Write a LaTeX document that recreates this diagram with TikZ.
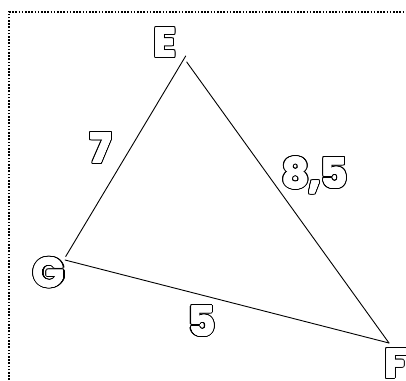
\documentclass[tikz,border=0pt]{standalone}
\usepackage{fontspec}
\newfontfamily\lblfont{Poppins}
\newcommand\hlabel[3]{%
  \foreach \r in {0.9,1.7}{\foreach \a in {0,15,...,345}{\node[lbl,text=black] at ([shift={(\a:\r pt)}]#2) {#3};}}%
  \foreach \a in {0,30,...,330}{\node[lbl,text=white] at ([shift={(\a:0.55pt)}]#2) {#3};}%
  \node[lbl,text=white] (#1) at (#2) {#3};}
\begin{document}
\begin{tikzpicture}[x=1pt,y=-1pt,
  lbl/.style={font=\lblfont\bfseries\fontsize{41}{41}\selectfont, inner sep=0pt, anchor=base},
  edge/.style={line width=0.9pt, line cap=round},
  frame/.style={line width=1.6pt, dash pattern=on 1.6pt off 1.6pt}]
\useasboundingbox (0,0) rectangle (406,380);
\fill[white] (0,0) rectangle (406,380);
\draw[frame] (9,380) -- (9,12) -- (406,12);
% vertices
\coordinate (E1) at (185.7,56);
\coordinate (E2) at (186.7,62);
\coordinate (G1) at (65.7,256.5);
\coordinate (G2) at (65,260);
\coordinate (F) at (389,343);
\draw[edge] (E1) -- (G1);
\draw[edge] (G2) -- (F);
\draw[edge] (E2) -- (F);
% labels
\hlabel{lE}{165,57}{E}
\hlabel{lG}{49,287}{G}
\hlabel{lF}{396,378}{F}
\hlabel{l7}{101,163}{7}
\hlabel{l85}{315,188}{8,5}
\hlabel{l5}{202,336}{5}
\end{tikzpicture}
\end{document}
